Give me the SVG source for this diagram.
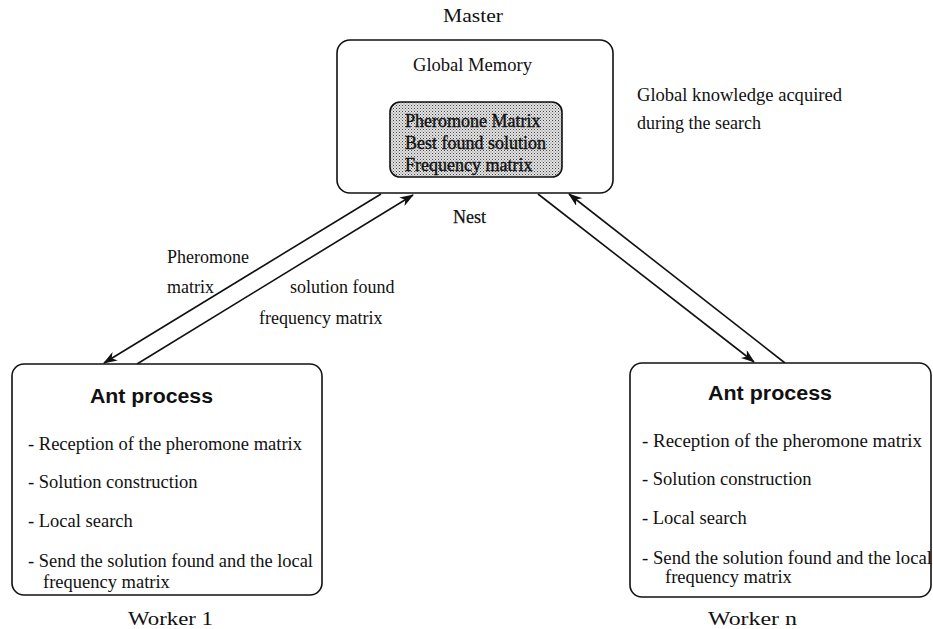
<svg xmlns="http://www.w3.org/2000/svg" width="933" height="629" viewBox="0 0 933 629">
<style>
.box{fill:#fff;stroke:#111;stroke-width:1.6}
.t{font-family:"Liberation Serif","Times New Roman",serif;font-size:18px;fill:#111}
.i{font-size:18.5px}
.b{stroke:#111;stroke-width:0.4}
.h{font-family:"Liberation Sans",Arial,sans-serif;font-size:20px;font-weight:bold;fill:#111}
.c{fill:none;stroke:#111;stroke-width:1.6}
</style>
<defs>
<pattern id="dots" width="3" height="3" patternUnits="userSpaceOnUse">
<rect width="3" height="3" fill="#e2e2e2"/>
<rect width="1" height="1" fill="#444"/>
<rect x="1.5" y="1.5" width="1" height="1" fill="#777"/>
</pattern>
<marker id="arr" viewBox="0 0 14 10" refX="13" refY="5" markerWidth="14" markerHeight="10" markerUnits="userSpaceOnUse" orient="auto">
<path d="M0,0 L14,5 L0,10 L4,5 Z" fill="#111"/>
</marker>
</defs>
<rect width="933" height="629" fill="#fff"/>

<g id="master">
<text class="t" x="443" y="22" textLength="60" lengthAdjust="spacingAndGlyphs" font-size="19">Master</text>
<rect class="box" x="337" y="40" width="276" height="153" rx="13"/>
<text class="t" x="413" y="71" textLength="119" lengthAdjust="spacingAndGlyphs">Global Memory</text>
<rect x="390" y="102" width="172" height="75" rx="10" fill="url(#dots)" stroke="#111" stroke-width="1.6"/>
<text class="t b" x="405" y="127">Pheromone Matrix</text>
<text class="t b" x="405" y="149">Best found solution</text>
<text class="t b" x="405" y="171">Frequency matrix</text>
</g>

<g id="nest-label"><text class="t" x="453" y="223" font-size="16" stroke="#111" stroke-width="0.25">Nest</text></g>

<g id="knowledge-label">
<text class="t" x="637" y="101" textLength="205" lengthAdjust="spacingAndGlyphs">Global knowledge acquired</text>
<text class="t" x="637" y="129" font-size="18.5">during the search</text>
</g>

<g id="connectors">
<line class="c" x1="381" y1="194" x2="104" y2="363" marker-end="url(#arr)"/>
<line class="c" x1="137" y1="364" x2="413" y2="195" marker-end="url(#arr)"/>
<line class="c" x1="538" y1="194" x2="754" y2="362" marker-end="url(#arr)"/>
<line class="c" x1="785" y1="363" x2="569" y2="194" marker-end="url(#arr)"/>
<text class="t" x="167" y="263">Pheromone</text>
<text class="t" x="167" y="293">matrix</text>
<text class="t" x="290" y="293">solution found</text>
<text class="t" x="259" y="324">frequency matrix</text>
</g>

<g id="worker1">
<rect class="box" x="12" y="364" width="310" height="231" rx="12"/>
<text class="h" x="90" y="403" textLength="123" lengthAdjust="spacingAndGlyphs">Ant process</text>
<text class="t i" x="28" y="450" textLength="274" lengthAdjust="spacingAndGlyphs">- Reception of the pheromone matrix</text>
<text class="t i" x="28" y="488">- Solution construction</text>
<text class="t i" x="28" y="527">- Local search</text>
<text class="t i" x="28" y="567" textLength="285" lengthAdjust="spacingAndGlyphs">- Send the solution found and the local</text>
<text class="t i" x="43" y="588">frequency matrix</text>
<text class="t" x="128" y="625" font-size="20" textLength="85" lengthAdjust="spacingAndGlyphs">Worker 1</text>
</g>

<g id="workern">
<rect class="box" x="630" y="363" width="301" height="234" rx="12"/>
<text class="h" x="708" y="400" textLength="124" lengthAdjust="spacingAndGlyphs">Ant process</text>
<text class="t i" x="642" y="447" textLength="280" lengthAdjust="spacingAndGlyphs">- Reception of the pheromone matrix</text>
<text class="t i" x="642" y="485">- Solution construction</text>
<text class="t i" x="642" y="524">- Local search</text>
<text class="t i" x="642" y="564" textLength="290" lengthAdjust="spacingAndGlyphs">- Send the solution found and the local</text>
<text class="t i" x="665" y="583">frequency matrix</text>
<text class="t" x="708" y="625" font-size="20" textLength="89" lengthAdjust="spacingAndGlyphs">Worker n</text>
</g>
</svg>
